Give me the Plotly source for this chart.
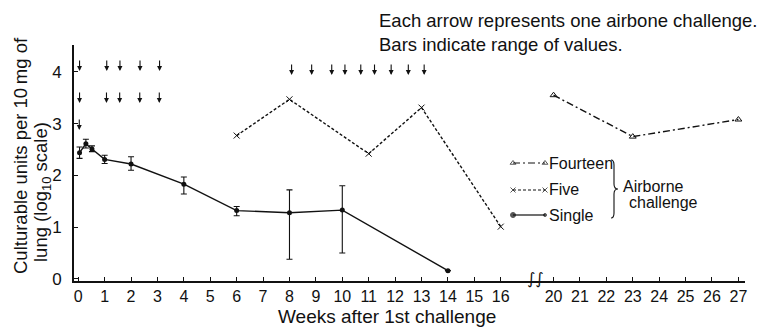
import plotly.graph_objects as go

# ---------------- data ----------------
single_weeks = [0.05, 0.29, 0.52, 1, 2, 4, 6, 8, 10, 14]
single_vals = [2.44, 2.61, 2.51, 2.31, 2.22, 1.83, 1.32, 1.28, 1.33, 0.16]
single_hi = [2.55, 2.70, 2.57, 2.39, 2.36, 1.97, 1.40, 1.72, 1.80, 0.16]
single_lo = [2.33, 2.53, 2.46, 2.23, 2.10, 1.64, 1.22, 0.38, 0.50, 0.16]

five_weeks = [6, 8, 11, 13, 16]
five_vals = [2.77, 3.47, 2.42, 3.31, 1.01]

fourteen_weeks = [20, 23, 27]
fourteen_vals = [3.55, 2.75, 3.08]

arrow_row1_weeks = [0.05, 1.08, 1.58, 2.34, 3.08]
arrow_row1_y = 4.02
arrow_row2_weeks = [0.05, 1.07, 1.57, 2.33, 3.07]
arrow_row2_y = 3.40
arrow_row3_weeks = [0.04]
arrow_row3_y = 2.88
arrow_late_weeks = [8.08, 8.84, 9.6, 10.1, 10.7, 11.22, 11.85, 12.5, 13.1]
arrow_late_y = 3.94

tick_weeks = list(range(0, 17)) + list(range(20, 28))
y_ticks = [0, 1, 2, 3, 4]


def pos(w):
    # broken axis: weeks 20+ are drawn two weeks closer
    return w if w <= 17 else w - 2


FONT = "Liberation Sans, Arial, sans-serif"
INK = "#111111"

fig = go.Figure()

plus = [h - v for h, v in zip(single_hi, single_vals)]
minus = [v - l for v, l in zip(single_vals, single_lo)]

fig.add_trace(go.Scatter(
    x=[pos(w) for w in single_weeks], y=single_vals, mode="lines+markers",
    line=dict(color=INK, width=1.4), marker=dict(color=INK, size=5, symbol="circle"),
    error_y=dict(type="data", array=plus, arrayminus=minus, color=INK, thickness=1.1, width=3),
    showlegend=False, cliponaxis=False))

fig.add_trace(go.Scatter(
    x=[pos(w) for w in five_weeks], y=five_vals, mode="lines+markers",
    line=dict(color=INK, width=1.4, dash="3px,2px"),
    marker=dict(color=INK, size=6, symbol="x-thin", line=dict(color=INK, width=1)),
    showlegend=False, cliponaxis=False))

fig.add_trace(go.Scatter(
    x=[pos(w) for w in fourteen_weeks], y=fourteen_vals, mode="lines+markers",
    line=dict(color=INK, width=1.4, dash="7px,3px,2px,3px"),
    marker=dict(color=INK, size=6, symbol="triangle-up-open", line=dict(color=INK, width=1)),
    showlegend=False, cliponaxis=False))

# ---- legend samples on an overlay axis (0..1) ----
L, R, T, B = 74, 745, 45, 281


def px_x(px):
    return (px - L) / (R - L)


def px_y(py):
    return (B - py) / (B - T)


legend_rows = [
    ("Fourteen", 163, "7px,3px,2px,3px", "triangle-up-open", 5, "triangle-up-open", 5),
    ("Five", 190, "3px,2px", "x-thin", 5, "x-thin", 5),
    ("Single", 215, "solid", "circle", 5, "circle", 3),
]
for name, py, dash, s1, z1, s2, z2 in legend_rows:
    fig.add_trace(go.Scatter(
        x=[px_x(513), px_x(545)], y=[px_y(py), px_y(py)], xaxis="x2", yaxis="y2",
        mode="lines+markers", line=dict(color=INK, width=1.2, dash=dash),
        marker=dict(color=INK, size=[z1, z2], symbol=[s1, s2], line=dict(color=INK, width=1)),
        showlegend=False, hoverinfo="skip", cliponaxis=False))


def note(px, py, text, size=16, anchor="left", angle=0, family=FONT):
    return dict(x=px_x(px), y=px_y(py), xref="paper", yref="paper", text=text,
                showarrow=False, xanchor=anchor, yanchor="middle", textangle=angle,
                font=dict(family=family, size=size, color=INK))


annotations = []
for name, py, *_ in legend_rows:
    annotations.append(note(547, py, name))
annotations.append(note(621, 186, "Airborne"))
annotations.append(note(627, 202, "challenge"))

# arrows (challenges)
for weeks, yy in [(arrow_row1_weeks, arrow_row1_y), (arrow_row2_weeks, arrow_row2_y),
                  (arrow_row3_weeks, arrow_row3_y), (arrow_late_weeks, arrow_late_y)]:
    for w in weeks:
        annotations.append(dict(x=pos(w), y=yy, xref="x", yref="y", text="", showarrow=True,
                                ax=0, ay=-12, arrowhead=2, arrowsize=0.9, arrowwidth=1.1,
                                arrowcolor=INK, standoff=0))

# top notes
annotations.append(note(377, 20, "Each arrow represents one airbone challenge.", size=18.5))
annotations.append(note(377, 44, "Bars indicate range of values.", size=18.5))

# axis titles
annotations.append(note(20, 156, "Culturable units per 10\u2009mg of", size=18.5,
                        anchor="center", angle=-90))
annotations.append(note(42, 192, "lung (log<sub>10</sub> scale)", size=18.5,
                        anchor="center", angle=-90))
annotations.append(note(387, 316, "Weeks after 1st challenge", size=19, anchor="center"))

# axis break mark
annotations.append(note(535, 278, "\u222b\u222b", size=16, anchor="center", family="DejaVu Sans"))

# brace path
def P(px, py):
    return f"{px_x(px):.5f},{px_y(py):.5f}"

brace = (f"M {P(611,160)} Q {P(614,160)} {P(614,165)} L {P(614,184)} Q {P(614,189)} {P(618,189)} "
         f"Q {P(614,189)} {P(614,194)} L {P(614,213)} Q {P(614,218)} {P(611,218)}")
shapes = [dict(type="path", path=brace, xref="paper", yref="paper",
               line=dict(color=INK, width=1.1))]

fig.update_layout(
    width=761, height=330,
    margin=dict(l=L, r=761 - R, t=T, b=330 - B),
    paper_bgcolor="white", plot_bgcolor="white",
    font=dict(family=FONT, color=INK),
    xaxis=dict(range=[-0.16, 25.25], tickmode="array",
               tickvals=[pos(w) for w in tick_weeks], ticktext=[str(w) for w in tick_weeks],
               ticks="inside", ticklen=4, tickcolor=INK, tickwidth=1,
               showline=True, linecolor=INK, linewidth=1.6, showgrid=False, zeroline=False,
               tickfont=dict(family=FONT, size=16, color=INK)),
    yaxis=dict(range=[-0.04, 4.52], tickmode="array", tickvals=y_ticks,
               ticktext=[str(v) for v in y_ticks],
               ticks="inside", ticklen=4, tickcolor=INK, tickwidth=1, ticklabelstandoff=7,
               showline=True, linecolor=INK, linewidth=1.6, showgrid=False, zeroline=False,
               tickfont=dict(family=FONT, size=17, color=INK)),
    xaxis2=dict(overlaying="x", range=[0, 1], visible=False),
    yaxis2=dict(overlaying="y", range=[0, 1], visible=False),
    annotations=annotations, shapes=shapes,
)

fig.write_html("out.html", config={"displayModeBar": False},
               post_script="document.body.style.margin='0';document.body.style.padding='0';")
